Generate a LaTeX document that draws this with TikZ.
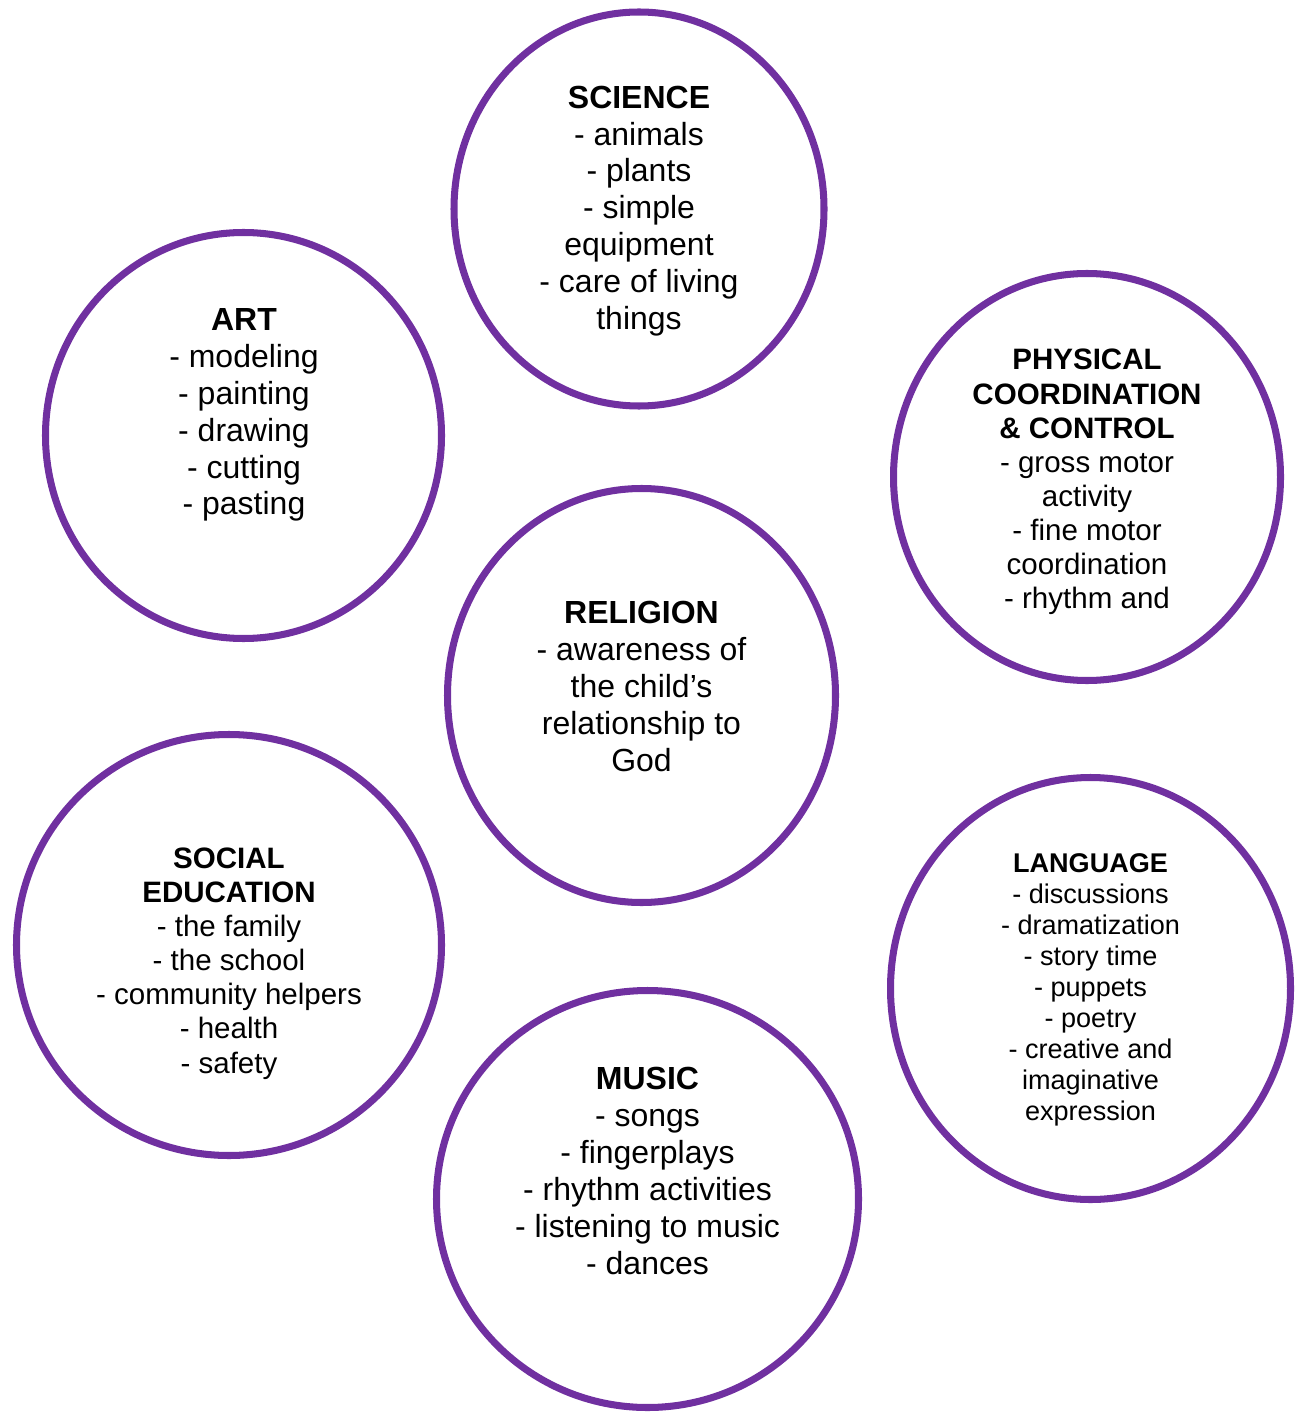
\documentclass[tikz,border=0pt]{standalone}
\usepackage{fontspec}
\setmainfont{Liberation Sans}
\usetikzlibrary{shapes.geometric}
\definecolor{topicpurple}{HTML}{7030A0}

\tikzset{
  topic/.style={ellipse, draw=topicpurple, line width=2pt, inner sep=0pt},
  biglist/.style={align=center, inner sep=0pt, font=\fontsize{9.1}{10.5}\selectfont},
  midlist/.style={align=center, inner sep=0pt, font=\fontsize{8.4}{9.7}\selectfont},
  smalllist/.style={align=center, inner sep=0pt, font=\fontsize{7.7}{8.8}\selectfont},
}

\begin{document}
\begin{tikzpicture}
            \useasboundingbox (0,0) rectangle (12.96,-14.12);
            % circles
            \node[topic, minimum width=3.70cm, minimum height=3.94cm] (science) at (6.39,-2.09) {};
            \node[topic, minimum width=3.96cm, minimum height=4.06cm] (art) at (2.435,-4.355) {};
            \node[topic, minimum width=3.87cm, minimum height=4.07cm] (physical) at (10.87,-4.77) {};
            \node[topic, minimum width=3.88cm, minimum height=4.14cm] (religion) at (6.415,-6.955) {};
            \node[topic, minimum width=4.25cm, minimum height=4.21cm] (social) at (2.29,-9.45) {};
            \node[topic, minimum width=4.00cm, minimum height=4.22cm] (language) at (10.905,-9.885) {};
            \node[topic, minimum width=4.22cm, minimum height=4.17cm] (music) at (6.475,-11.99) {};
            % texts
            \node[biglist] (sciencetext) at (6.39,-2.11)
              {\textbf{SCIENCE}\\- animals\\- plants\\- simple\\equipment\\- care of living\\things};
            \node[biglist] (arttext) at (2.44,-4.15)
              {\textbf{ART}\\- modeling\\- painting\\- drawing\\- cutting\\- pasting};
            \node[midlist] (physicaltext) at (10.87,-4.82)
              {\textbf{PHYSICAL}\\\textbf{COORDINATION}\\\textbf{\& CONTROL}\\- gross motor\\activity\\- fine motor\\coordination\\- rhythm and};
            \node[biglist] (religiontext) at (6.415,-6.865)
              {\textbf{RELIGION}\\- awareness of\\the child’s\\relationship to\\God};
            \node[midlist] (socialtext) at (2.29,-9.635)
              {\textbf{SOCIAL}\\\textbf{EDUCATION}\\- the family\\- the school\\- community helpers\\- health\\- safety};
            \node[smalllist] (languagetext) at (10.905,-9.90)
              {\textbf{LANGUAGE}\\- discussions\\- dramatization\\- story time\\- puppets\\- poetry\\- creative and\\imaginative\\expression};
            \node[biglist] (musictext) at (6.475,-11.71)
              {\textbf{MUSIC}\\- songs\\- fingerplays\\- rhythm activities\\- listening to music\\- dances};
\end{tikzpicture}
\end{document}
